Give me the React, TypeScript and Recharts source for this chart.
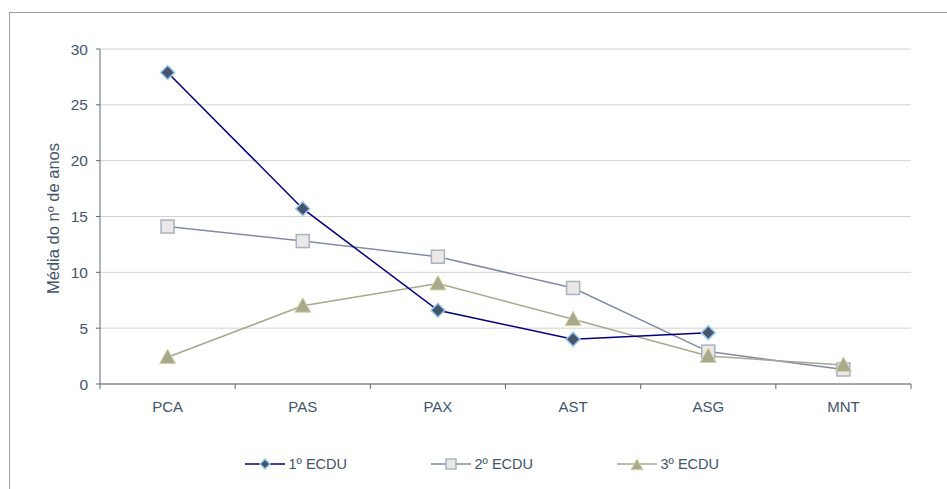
import React from "react";
import { LineChart, Line, XAxis, YAxis, CartesianGrid } from "recharts";

const categories = ["PCA", "PAS", "PAX", "AST", "ASG", "MNT"];
const ecdu1 = [27.9, 15.7, 6.6, 4.0, 4.6, null];
const ecdu2 = [14.1, 12.8, 11.4, 8.6, 2.9, 1.3];
const ecdu3 = [2.4, 7.0, 9.0, 5.8, 2.5, 1.7];
const yTicks = [0, 5, 10, 15, 20, 25, 30];

const seriesNames = ["1º ECDU", "2º ECDU", "3º ECDU"];

const data = categories.map((c, i) => ({
  pos: i + 0.5,
  name: c,
  s1: ecdu1[i],
  s2: ecdu2[i],
  s3: ecdu3[i],
}));

const textColor = "#44546a";
const axisColor = "#5a6880";
const font = "'Liberation Sans', Arial, sans-serif";

// integer positions are category boundaries (tick marks), halves hold labels
const xTicks = [0, 0.5, 1, 1.5, 2, 2.5, 3, 3.5, 4, 4.5, 5, 5.5, 6];
const TICK_SIZE = 5;
const TICK_MARGIN = 19;

const Diamond = ({ cx, cy, r = 7 }) => (
  <path
    d={`M${cx},${cy - r} L${cx + r},${cy} L${cx},${cy + r} L${cx - r},${cy} Z`}
    fill="#44546a"
    stroke="#9ccaf2"
    strokeWidth={1.5}
  />
);

const Square = ({ cx, cy, s = 13 }) => (
  <rect x={cx - s / 2} y={cy - s / 2} width={s} height={s} fill="#ebe8e5" stroke="#a8b2c2" strokeWidth={1.5} />
);

const Triangle = ({ cx, cy, w = 16 }) => (
  <path
    d={`M${cx},${cy - w * 0.5} L${cx + w / 2},${cy + w * 0.4} L${cx - w / 2},${cy + w * 0.4} Z`}
    fill="#a8a88c"
    stroke="#d4d4a8"
    strokeWidth={1}
  />
);

const dotFor = (Shape) => (props) => {
  const { cx, cy, value, index } = props;
  if (value == null || cx == null || cy == null) return <g key={index} />;
  return <Shape key={index} cx={cx} cy={cy} />;
};

const XTick = ({ x, y, payload }) => {
  const v = payload.value;
  if (Number.isInteger(v)) {
    const axisY = y - TICK_SIZE - TICK_MARGIN;
    return <line x1={x} x2={x} y1={axisY} y2={axisY + TICK_SIZE} stroke={axisColor} strokeWidth={1} />;
  }
  const label = categories[Math.floor(v)];
  return (
    <text x={x} y={y} textAnchor="middle" dominantBaseline="middle" fill={textColor} fontSize={15} fontFamily={font}>
      {label}
    </text>
  );
};

const YLabel = ({ viewBox }) => {
  const cx = 55;
  const cy = viewBox.y + viewBox.height / 2 + 2;
  return (
    <text
      x={cx}
      y={cy}
      transform={`rotate(-90 ${cx} ${cy})`}
      textAnchor="middle"
      dominantBaseline="middle"
      fill={textColor}
      fontSize={16.5}
      fontFamily={font}
    >
      Média do nº de anos
    </text>
  );
};

const legendItems = [
  { name: seriesNames[0], color: "#000080", Shape: Diamond, size: 5 },
  { name: seriesNames[1], color: "#7f8ca4", Shape: Square, size: 10 },
  { name: seriesNames[2], color: "#a8a890", Shape: Triangle, size: 12 },
];

const ChartLegend = () => (
  <div
    style={{
      position: "absolute",
      top: 456,
      left: 0,
      width: 947,
      display: "flex",
      justifyContent: "center",
      paddingLeft: 17,
      gap: 84,
      boxSizing: "border-box",
    }}
  >
    {legendItems.map(({ name, color, Shape, size }) => (
      <div key={name} style={{ display: "flex", alignItems: "center", width: 102 }}>
        <svg width={42} height={16}>
          <line x1={0} x2={40} y1={8} y2={8} stroke={color} strokeWidth={1.5} />
          {Shape === Diamond && <Diamond cx={20} cy={8} r={size} />}
          {Shape === Square && <Square cx={20} cy={8} s={size} />}
          {Shape === Triangle && <Triangle cx={20} cy={9} w={size} />}
        </svg>
        <span style={{ fontFamily: font, fontSize: 14.5, color: textColor, marginLeft: 2, whiteSpace: "nowrap" }}>{name}</span>
      </div>
    ))}
  </div>
);

export default function App() {
  return (
    <div style={{ position: "absolute", left: 0, top: 0, width: 947, height: 489, background: "#fff", overflow: "hidden" }}>
      <div
        style={{
          position: "absolute",
          left: 9,
          top: 12,
          width: 960,
          height: 500,
          borderLeft: "1px solid #a0a0a0",
          borderTop: "1px solid #a0a0a0",
        }}
      />
      <LineChart width={947} height={489} data={data} margin={{ top: 49, right: 36, left: 40, bottom: 75 }}>
        <CartesianGrid vertical={false} stroke="#d2d2d2" strokeWidth={1} />
        <XAxis
          dataKey="pos"
          type="number"
          domain={[0, 6]}
          ticks={xTicks}
          interval={0}
          tickLine={false}
          tickSize={TICK_SIZE}
          tickMargin={TICK_MARGIN}
          tick={<XTick />}
          axisLine={{ stroke: axisColor }}
          height={30}
        />
        <YAxis
          domain={[0, 30]}
          ticks={yTicks}
          interval={0}
          width={60}
          tickSize={4}
          tickMargin={8}
          tickLine={{ stroke: axisColor }}
          axisLine={{ stroke: axisColor }}
          tick={{ fill: textColor, fontSize: 15.5, fontFamily: font }}
          label={<YLabel />}
        />
        <Line
          type="linear"
          dataKey="s2"
          name={seriesNames[1]}
          stroke="#7f8ca4"
          strokeWidth={1.5}
          dot={dotFor(Square)}
          activeDot={false}
          isAnimationActive={false}
        />
        <Line
          type="linear"
          dataKey="s3"
          name={seriesNames[2]}
          stroke="#a8a890"
          strokeWidth={1.5}
          dot={dotFor(Triangle)}
          activeDot={false}
          isAnimationActive={false}
        />
        <Line
          type="linear"
          dataKey="s1"
          name={seriesNames[0]}
          stroke="#000080"
          strokeWidth={1.5}
          dot={dotFor(Diamond)}
          activeDot={false}
          connectNulls={false}
          isAnimationActive={false}
        />
      </LineChart>
      <ChartLegend />
    </div>
  );
}
